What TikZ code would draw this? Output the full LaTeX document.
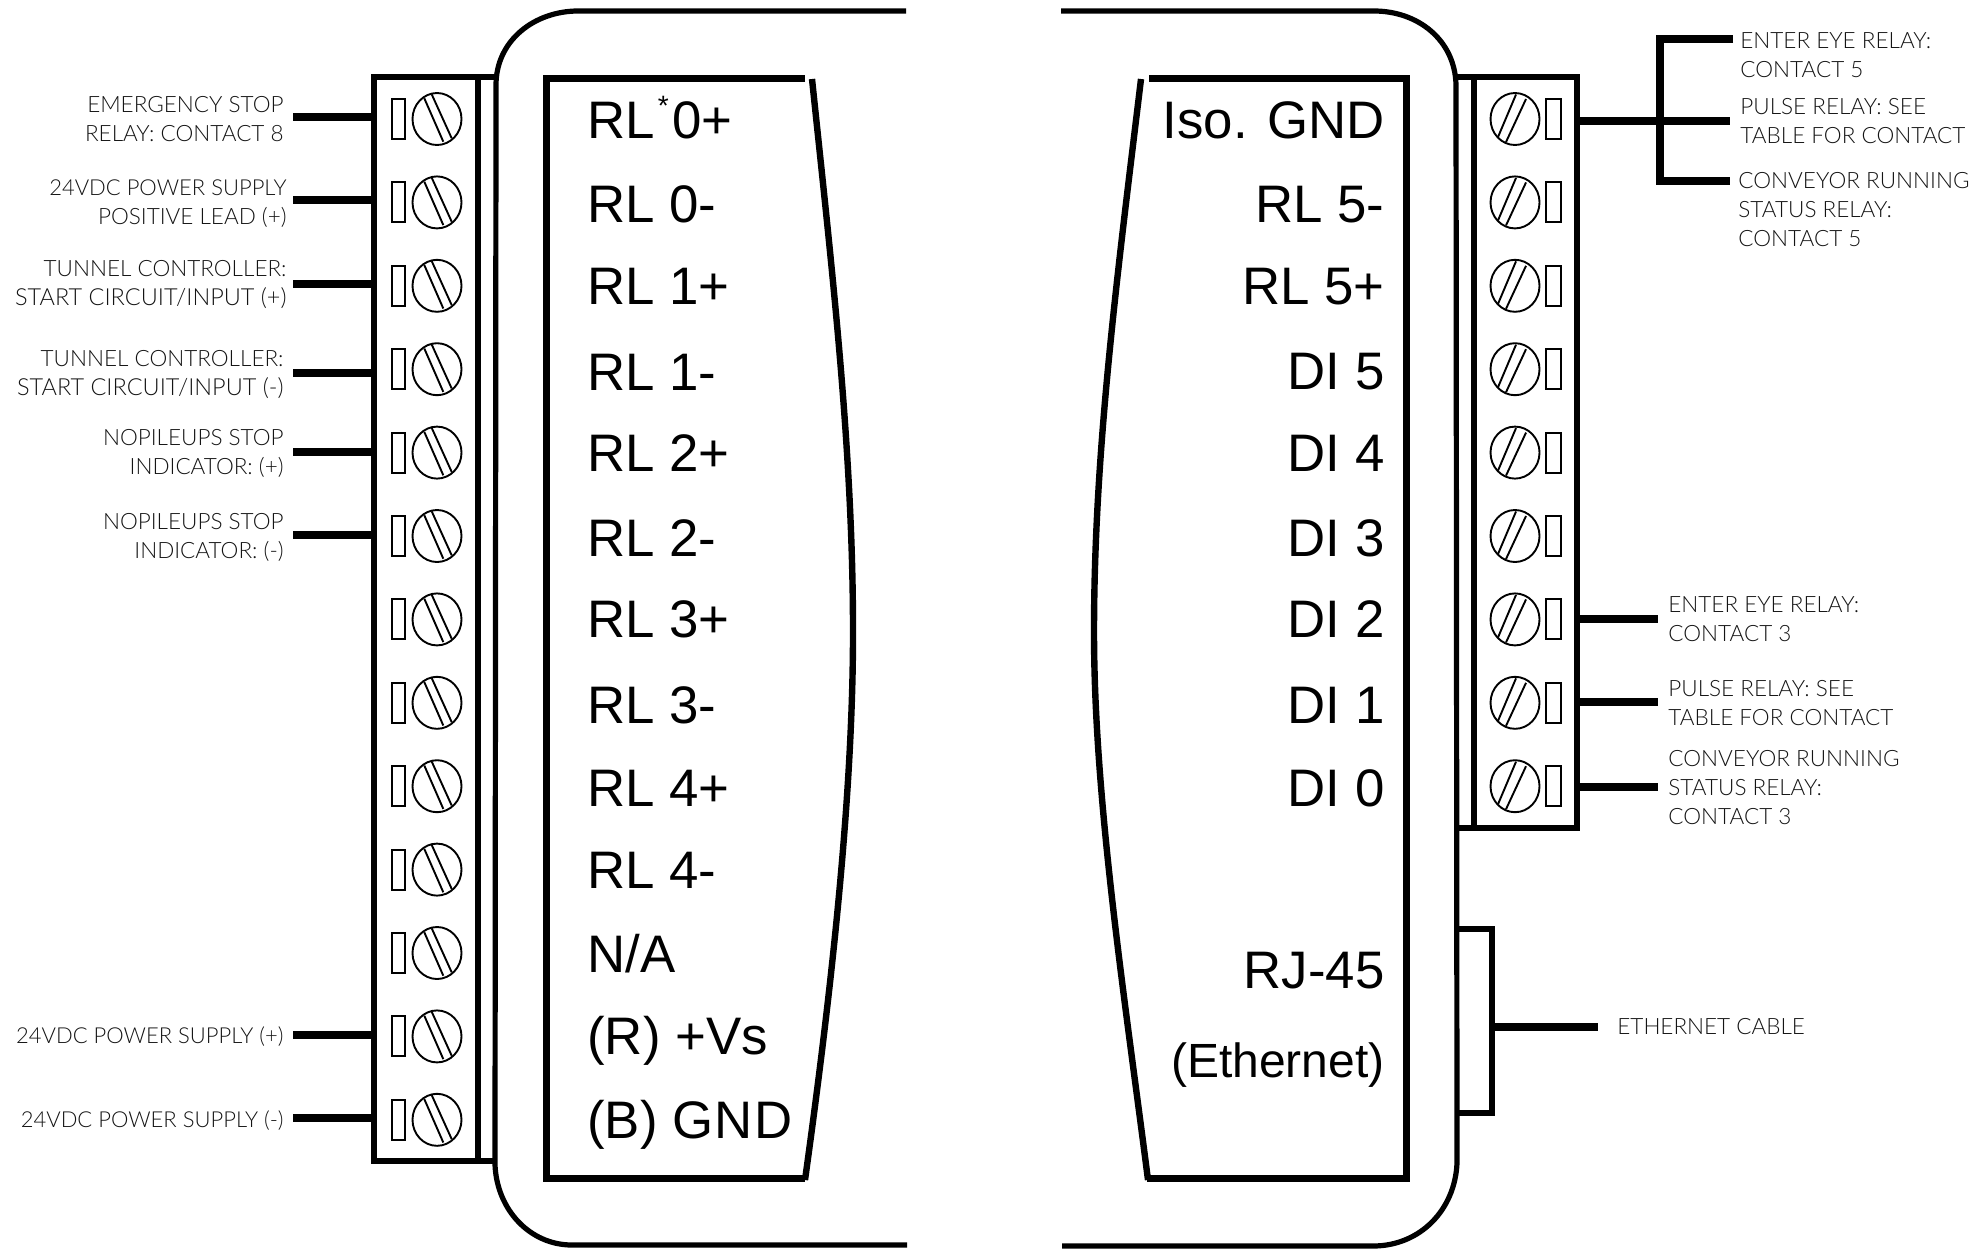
\documentclass[tikz,border=0pt]{standalone}
\usepackage{fontspec}
\setmainfont{Lato Light}
\newfontfamily\pinfont{Liberation Sans}
\newcommand{\widerline}[1]{{\fontsize{11.75}{14.3}\selectfont #1}}
\newcommand{\narrowline}[1]{{\fontsize{11}{14.3}\selectfont #1}}
\tikzset{
  x=0.5pt,y=-0.5pt,
  thickline/.style={line width=3.5pt,black,line cap=butt},
  wall/.style={line width=2.6pt,black},
  wire/.style={line width=3.6pt,black},
  thin part/.style={line width=0.95pt,black},
  pin/.style={font=\pinfont\fontsize{26.4}{28}\selectfont,inner sep=0pt,text=black},
  lbl/.style={font=\fontsize{11.25}{14.3}\selectfont,inner sep=0pt,text=black!92},
}
\begin{document}
\begin{tikzpicture}
\useasboundingbox (0,0) rectangle (1984,1248);
% housing
\draw[wall] (906,11) -- (578,11) .. controls (535,11) and (496,40) .. (496,85) -- (495,1165) .. controls (497,1210) and (530,1245) .. (572,1245) -- (907,1245);
\draw[wall] (1061,11) -- (1374,11) .. controls (1418,11) and (1455,40) .. (1456,85) -- (1457,1163) .. controls (1455,1210) and (1420,1246) .. (1373,1246) -- (1062,1246);
% left terminal block
\draw[wall] (496,77) -- (374,77) -- (374,1161) -- (496,1161);
\draw[wall] (478,77) -- (478,1161);
% right terminal block
\draw[wall] (1456,77) -- (1577,77) -- (1577,828) -- (1456,828);
\draw[wall] (1474,77) -- (1474,828);
% Ethernet jack
\draw[wall] (1457,929) -- (1492,929) -- (1492,1113) -- (1457,1113);
% inner panels
\draw[thickline] (805,78) -- (546,78) -- (546,1178) -- (805,1178);
\draw[line width=3.2pt] (812,79) .. controls (832,270) and (853,450) .. (853,632) .. controls (853,800) and (830,1000) .. (805,1180);
\draw[thickline] (1149,78) -- (1406,78) -- (1406,1178) -- (1147,1178);
\draw[line width=3.2pt] (1141,79) .. controls (1118,270) and (1094,450) .. (1094,632) .. controls (1094,800) and (1125,1000) .. (1148,1180);
% screws, left
\foreach \i in {0,...,12}{
  \pgfmathsetmacro\yy{119+83.4*\i}
  \draw[thin part] (392,\yy-20) rectangle (405,\yy+20);
  \draw[thin part] (437,\yy) ellipse[x radius=24.5,y radius=26];
  \draw[thin part] (424.3,\yy-20.7) -- (443.3,\yy+22.7);
  \draw[thin part] (431.7,\yy-24.7) -- (451.7,\yy+19.3);
}
% screws, right
\foreach \i in {0,...,8}{
  \pgfmathsetmacro\yy{119+83.4*\i}
  \draw[thin part] (1546,\yy-20) rectangle (1561,\yy+20);
  \draw[thin part] (1515,\yy) ellipse[x radius=24.5,y radius=26];
  \draw[thin part] (1516,\yy-24.5) -- (1498,\yy+18);
  \draw[thin part] (1526,\yy-20) -- (1506,\yy+23);
}
% pin labels, left
\foreach \t/\b [count=\n] in {{RL\rlap{\kern1.5pt\raisebox{0.42em}{\fontsize{14}{14}\selectfont *}}~\kern1.5pt0+}/138,RL 0-/222,RL 1+/304,RL 1-/390,RL 2+/471,RL 2-/556,RL 3+/637,RL 3-/723,RL 4+/806,RL 4-/888,{N/A}/972,(R) +Vs/1054,{(B) G\kern0.6pt N\kern0.6pt D}/1138}
  \node[pin,anchor=base west] (pl\n) at (587,\b) {\t};
% pin labels, right
\foreach \t/\b [count=\n] in {Iso. GND/138,RL 5-/222,RL 5+/304,DI 5/389,DI 4/471,DI 3/556,DI 2/637,DI 1/723,DI 0/806,RJ-45/988,{\fontsize{24}{26}\selectfont (Ethernet)}/1077}
  \node[pin,anchor=base east] (pr\n) at (1385,\b) {\t};
% left labels and wires
\foreach \b/\w/\r/\t [count=\n] in {
 141/117/284/{EMERGENCY STOP\\RELAY: CONTACT 8},
 224/200/287/{\narrowline{24VDC POWER SUPPLY}\\POSITIVE LEAD (+)},
 305/284/287/{TUNNEL CONTROLLER:\\\widerline{START CIRCUIT/INPUT (+)}},
 395/373/284/{TUNNEL CONTROLLER:\\\widerline{START CIRCUIT/INPUT (-)}},
 474/452/284/{NOPILEUPS STOP\\INDICATOR: (+)},
 558/535/284/{NOPILEUPS STOP\\INDICATOR: (-)},
 1043/1035/284/{\narrowline{24VDC POWER SUPPLY (+)}},
 1127/1118/284/{\narrowline{24VDC POWER SUPPLY (-)}}}{
  \node[lbl,anchor=base east,align=right] (ll\n) at (\r,\b) {\t};
  \coordinate (lwa\n) at (293,\w);
  \coordinate (lwb\n) at (374,\w);
  \draw[wire] (lwa\n) -- (lwb\n);
}
% right labels
\node[lbl,anchor=base west,align=left] (r1) at (1740,77) {ENTER EYE RELAY:\\CONTACT 5};
\node[lbl,anchor=base west,align=left] (r2) at (1740,143) {PULSE RELAY: SEE\\TABLE FOR CONTACT};
\node[lbl,anchor=base west,align=left] (r3) at (1738,246) {CONVEYOR RUNNING\\STATUS RELAY:\\CONTACT 5};
\node[lbl,anchor=base west,align=left] (r4) at (1668,641) {ENTER EYE RELAY:\\CONTACT 3};
\node[lbl,anchor=base west,align=left] (r5) at (1668,725) {PULSE RELAY: SEE\\TABLE FOR CONTACT};
\node[lbl,anchor=base west,align=left] (r6) at (1668,824) {CONVEYOR RUNNING\\STATUS RELAY:\\CONTACT 3};
\node[lbl,anchor=base west] (r7) at (1617,1034) {ETHERNET CABLE};
% right wires
\coordinate (tb1) at (1577,121);
\coordinate (tb7) at (1577,619);
\coordinate (tb8) at (1577,702);
\coordinate (tb9) at (1577,787);
\coordinate (eth) at (1492,1027);
\coordinate (w1) at (1733,39);
\coordinate (w2) at (1730,121);
\coordinate (w3) at (1730,181);
\coordinate (w7) at (1658,619);
\coordinate (w8) at (1658,702);
\coordinate (w9) at (1658,787);
\coordinate (w10) at (1598,1027);
\draw[wire] (tb1) -- (w2);
\draw[wire] (w1) -- (1660,39) -- (1660,181) -- (w3);
\draw[wire] (tb7) -- (w7);
\draw[wire] (tb8) -- (w8);
\draw[wire] (tb9) -- (w9);
\draw[wire] (eth) -- (w10);
\end{tikzpicture}
\end{document}
